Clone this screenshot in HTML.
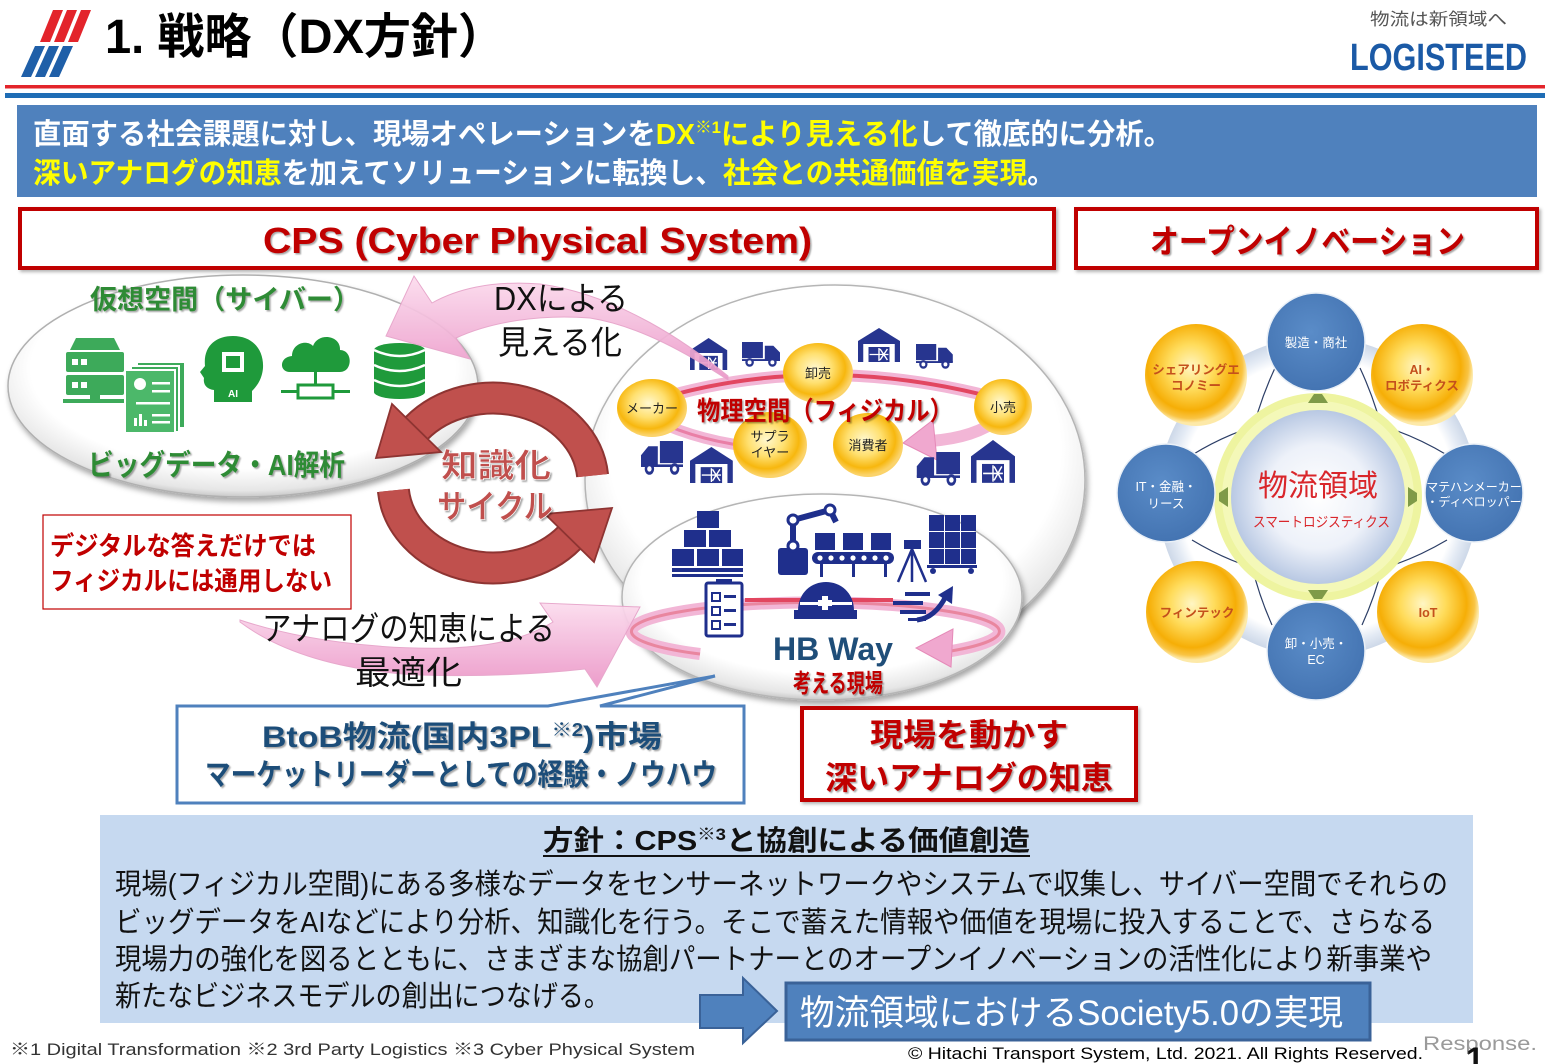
<!DOCTYPE html>
<html><head><meta charset="utf-8">
<style>
html,body{margin:0;padding:0;background:#fff;}
svg{display:block;}
text{font-family:"Liberation Sans","Noto Sans CJK JP",sans-serif;}
</style></head><body>
<svg width="1548" height="1064" viewBox="0 0 1548 1064" xmlns="http://www.w3.org/2000/svg">
<defs>
<filter id="sh" x="-10%" y="-10%" width="125%" height="130%"><feDropShadow dx="2" dy="4" stdDeviation="3" flood-color="#000" flood-opacity="0.35"/></filter>
<filter id="tsh" x="-5%" y="-20%" width="110%" height="150%"><feDropShadow dx="1.5" dy="1.5" stdDeviation="0.8" flood-color="#000" flood-opacity="0.35"/></filter>
<filter id="bsh" x="-5%" y="-10%" width="110%" height="130%"><feDropShadow dx="2" dy="2" stdDeviation="1.5" flood-color="#000" flood-opacity="0.3"/></filter>
<radialGradient id="ellG" cx="50%" cy="42%" r="58%"><stop offset="0.78" stop-color="#ffffff"/><stop offset="0.95" stop-color="#e6e6e6"/><stop offset="1" stop-color="#c8c8c8"/></radialGradient>
<radialGradient id="yel" cx="45%" cy="42%" r="55%"><stop offset="0" stop-color="#fff8cf"/><stop offset="0.45" stop-color="#ffe070"/><stop offset="0.8" stop-color="#f7b70e"/><stop offset="1" stop-color="#fbd36a"/></radialGradient>
<radialGradient id="yel2" cx="45%" cy="42%" r="55%"><stop offset="0" stop-color="#fff6c4"/><stop offset="0.4" stop-color="#ffdc5c"/><stop offset="0.78" stop-color="#f6ae06"/><stop offset="0.92" stop-color="#f9c444"/><stop offset="1" stop-color="#fde9a8"/></radialGradient>
<linearGradient id="pink" x1="0" y1="0" x2="0" y2="1"><stop offset="0" stop-color="#fcdcee"/><stop offset="1" stop-color="#eb95c7"/></linearGradient>
<radialGradient id="ctr" cx="50%" cy="50%" r="50%"><stop offset="0" stop-color="#ffffff"/><stop offset="0.6" stop-color="#edf1f9"/><stop offset="1" stop-color="#b8c8e3"/></radialGradient>
<radialGradient id="ring" cx="50%" cy="50%" r="50%"><stop offset="0.86" stop-color="#ffffff"/><stop offset="0.93" stop-color="#e3eaf4"/><stop offset="1" stop-color="#cdd8e8"/></radialGradient>
<radialGradient id="blu" cx="45%" cy="40%" r="60%"><stop offset="0" stop-color="#5a8cc8"/><stop offset="1" stop-color="#4474b2"/></radialGradient>
<g id="wh"><path d="M0 13 L20 0 L40 13 L40 34 L35 34 L35 16 L5 16 L5 34 L0 34 Z" fill="#27358f"/><rect x="10" y="19" width="20" height="15" fill="#27358f"/><path d="M20 20 L20 33 M11 26.5 L29 26.5 M21 21 L28 32 M28 21 L21 32" stroke="#fff" stroke-width="1.3"/></g>
<g id="tr"><rect x="0" y="0" width="22" height="17" fill="#27358f"/><path d="M24 4 L33 4 L40 11 L40 19 L24 19 Z" fill="#27358f"/><rect x="0" y="18" width="40" height="2" fill="#27358f"/><circle cx="8" cy="21.5" r="3.3" fill="#fff" stroke="#27358f" stroke-width="2.4"/><circle cx="32" cy="21.5" r="3.3" fill="#fff" stroke="#27358f" stroke-width="2.4"/></g>
</defs>

<!-- header -->
<g fill="#e3242b">
<polygon points="53,10 63,10 50,42 40,42"/><polygon points="67,10 77,10 64,42 54,42"/><polygon points="81,10 91,10 78,42 68,42"/>
</g>
<g fill="#1f5fa8">
<polygon points="35,46 45,46 31,77 21,77"/><polygon points="49,46 59,46 45,77 35,77"/><polygon points="63,46 73,46 59,77 49,77"/>
</g>
<text x="105" y="53" font-size="48" font-weight="bold" fill="#000" textLength="400" lengthAdjust="spacingAndGlyphs">1. 戦略（DX方針）</text>
<text x="1370" y="25" font-size="17" fill="#555" textLength="137" lengthAdjust="spacingAndGlyphs">物流は新領域へ</text>
<text x="1350" y="70" font-size="38" font-weight="bold" fill="#1b5aa6" textLength="177" lengthAdjust="spacingAndGlyphs">LOGISTEED</text>
<rect x="5" y="85" width="1540" height="3.5" fill="#e3242b"/>
<rect x="5" y="93" width="1540" height="5" fill="#1f6db5"/>

<!-- banner -->
<rect x="17" y="105" width="1520" height="92" fill="#4f81bd"/>
<text x="33" y="144" font-size="29" font-weight="bold" fill="#fff" textLength="1139" lengthAdjust="spacingAndGlyphs">直面する社会課題に対し、現場オペレーションを<tspan fill="#ffff00">DX</tspan><tspan fill="#ffff00" font-size="17" dy="-11">※1</tspan><tspan fill="#ffff00" dy="11">により見える化</tspan>して徹底的に分析。</text>
<text x="33" y="183" font-size="29" font-weight="bold" fill="#fff" textLength="1022" lengthAdjust="spacingAndGlyphs"><tspan fill="#ffff00">深いアナログの知恵</tspan>を加えてソリューションに転換し、<tspan fill="#ffff00">社会との共通価値を実現</tspan>。</text>

<!-- section headers -->
<rect x="20" y="209" width="1034" height="59" fill="#fff" stroke="#c00000" stroke-width="4" filter="url(#bsh)"/>
<text x="263" y="253" font-size="36" font-weight="bold" fill="#c00000" textLength="549" lengthAdjust="spacingAndGlyphs" filter="url(#tsh)">CPS (Cyber Physical System)</text>
<rect x="1076" y="209" width="461" height="59" fill="#fff" stroke="#c00000" stroke-width="4" filter="url(#bsh)"/>
<text x="1150" y="253" font-size="33" font-weight="bold" fill="#c00000" textLength="315" lengthAdjust="spacingAndGlyphs" filter="url(#tsh)">オープンイノベーション</text>

<!-- ellipses -->
<ellipse cx="835" cy="480" rx="250" ry="195" fill="url(#ellG)" stroke="#b5b5b5" stroke-width="1.5" filter="url(#sh)"/>
<ellipse cx="822" cy="597" rx="200" ry="103" fill="url(#ellG)" stroke="#b5b5b5" stroke-width="1.5" filter="url(#sh)"/>
<ellipse cx="243" cy="386" rx="235" ry="111" fill="url(#ellG)" stroke="#b0b0b0" stroke-width="1.5" filter="url(#sh)"/>

<!-- cyber content -->
<text x="90" y="309" font-size="27" font-weight="bold" fill="#2e8b35" textLength="270" lengthAdjust="spacingAndGlyphs" filter="url(#tsh)">仮想空間（サイバー）</text>
<g fill="#3daa5a">
<polygon points="70,350 76,338 114,338 120,350"/>
<rect x="66" y="352" width="58" height="20" rx="2"/>
<rect x="66" y="375" width="58" height="20" rx="2"/>
<rect x="90" y="395" width="10" height="5"/>
<rect x="63" y="399" width="62" height="4"/>
<rect x="137" y="362" width="48" height="66" stroke="#fff" stroke-width="2"/>
<rect x="131" y="366" width="48" height="66" stroke="#fff" stroke-width="2"/>
<rect x="125" y="370" width="50" height="63" fill="#4cb86a" stroke="#fff" stroke-width="2"/>
</g>
<g fill="#fff">
<rect x="72" y="359" width="6" height="6"/><rect x="81" y="359" width="6" height="6"/>
<rect x="72" y="382" width="6" height="6"/><rect x="81" y="382" width="6" height="6"/>
<circle cx="140" cy="384" r="6"/>
<rect x="152" y="382" width="18" height="2.5"/><rect x="152" y="390" width="18" height="2.5"/>
<rect x="136" y="402" width="34" height="2.5"/>
<rect x="134" y="418" width="3" height="8"/><rect x="139" y="414" width="3" height="12"/><rect x="144" y="420" width="3" height="6"/>
<rect x="152" y="414" width="18" height="2.5"/><rect x="152" y="421" width="18" height="2.5"/>
</g>
<path d="M214 402 L214 390 C206 389 203 384 204 378 L200 372 L205 366 C203 346 216 336 233 336 C253 336 264 350 263 368 C262 380 256 387 252 391 L252 402 Z" fill="#1f9a3b"/>
<rect x="222" y="352" width="22" height="20" fill="#fff"/>
<rect x="226" y="356" width="14" height="12" fill="#1f9a3b"/>
<text x="233" y="397" font-size="10" font-weight="bold" fill="#fff" text-anchor="middle">AI</text>
<path d="M290 372 C279 372 279 357 292 356 C292 344 306 339 313 346 C318 332 341 335 340 350 C353 350 353 372 340 372 Z" fill="#1f9a3b"/>
<rect x="314" y="372" width="3" height="13" fill="#1f9a3b"/>
<rect x="298" y="385" width="35" height="13" fill="none" stroke="#1f9a3b" stroke-width="3"/>
<rect x="281" y="390" width="17" height="3" fill="#1f9a3b"/><rect x="333" y="390" width="17" height="3" fill="#1f9a3b"/>
<rect x="374" y="350" width="51" height="42" fill="#1f9a3b"/>
<ellipse cx="399.5" cy="350" rx="25.5" ry="7" fill="#1f9a3b"/>
<ellipse cx="399.5" cy="392" rx="25.5" ry="7" fill="#1f9a3b"/>
<path d="M374 350 Q399.5 362 425 350 M374 365 Q399.5 377 425 365 M374 380 Q399.5 392 425 380" stroke="#fff" stroke-width="2.5" fill="none"/>
<text x="88" y="475" font-size="29" font-weight="bold" fill="#2e8b35" textLength="257" lengthAdjust="spacingAndGlyphs" filter="url(#tsh)">ビッグデータ・AI解析</text>

<!-- physical loop -->
<path d="M655 400 Q820 350 1003 400" stroke="#f2b6d6" stroke-width="12" fill="none"/>
<path d="M655 400 Q820 350 1003 400" stroke="#e24660" stroke-width="4" fill="none"/>
<path d="M655 420 Q700 442 762 448" stroke="#f2b6d6" stroke-width="11" fill="none"/>
<path d="M655 420 Q700 442 762 448" stroke="#e97fa6" stroke-width="3" fill="none"/>
<path d="M1000 418 Q975 438 930 441" stroke="#f2b6d6" stroke-width="12" fill="none"/>
<polygon points="933,420 937,460 903,443" fill="#f0a8cf" stroke="#e58ab8" stroke-width="1"/>
<g>
<ellipse cx="652" cy="408" rx="35" ry="29" fill="url(#yel)"/>
<ellipse cx="818" cy="373" rx="35" ry="30" fill="url(#yel)"/>
<ellipse cx="1003" cy="407" rx="29" ry="28" fill="url(#yel)"/>
<ellipse cx="770" cy="445" rx="37" ry="33" fill="url(#yel)"/>
<ellipse cx="868" cy="445" rx="35" ry="32" fill="url(#yel)"/>
</g>
<g font-size="13" fill="#222" text-anchor="middle">
<text x="652" y="413">メーカー</text>
<text x="818" y="378">卸売</text>
<text x="1003" y="412">小売</text>
<text x="770" y="441">サプラ</text>
<text x="770" y="457">イヤー</text>
<text x="868" y="450">消費者</text>
</g>
<text x="697" y="420" font-size="26" font-weight="bold" fill="#c00000" textLength="256" lengthAdjust="spacingAndGlyphs" filter="url(#tsh)">物理空間（フィジカル）</text>
<use href="#wh" transform="translate(690,338) scale(0.93,0.94)"/>
<use href="#wh" transform="translate(858,328) scale(1.05,1.0)"/>
<use href="#wh" transform="translate(690,447) scale(1.07,1.06)"/>
<use href="#wh" transform="translate(971,440) scale(1.1,1.26)"/>
<use href="#tr" transform="translate(742,342) scale(0.95,0.95)"/>
<use href="#tr" transform="translate(916,344) scale(0.92,0.95)"/>
<use href="#tr" transform="translate(683,441) scale(-1.05,1.3)"/>
<use href="#tr" transform="translate(960,452) scale(-1.08,1.3)"/>

<!-- HB loop -->
<path d="M700 654 A184 29 0 1 1 945 652" stroke="#f2b6d6" stroke-width="12" fill="none"/>
<path d="M700 654 A184 29 0 1 1 945 652" stroke="#e9869f" stroke-width="3" fill="none"/>
<path d="M745 600 L893 600" stroke="#e24660" stroke-width="4"/>
<polygon points="953,629 951,667 916,648" fill="#f0a8cf" stroke="#e58ab8" stroke-width="1"/>
<g fill="#1f2f8c">
<rect x="697" y="511" width="22" height="17"/>
<rect x="684" y="530" width="22" height="17"/><rect x="709" y="530" width="22" height="17"/>
<rect x="672" y="549" width="22" height="17"/><rect x="697" y="549" width="22" height="17"/><rect x="722" y="549" width="21" height="17"/>
<rect x="672" y="568" width="71" height="4"/><rect x="672" y="574" width="71" height="3"/>
<rect x="778" y="548" width="30" height="27" rx="3"/>
<rect x="812" y="552" width="82" height="12" rx="6"/>
<rect x="815" y="533" width="20" height="17"/><rect x="843" y="533" width="20" height="17"/><rect x="871" y="533" width="20" height="17"/>
<rect x="820" y="564" width="3" height="13"/><rect x="852" y="564" width="3" height="13"/><rect x="884" y="564" width="3" height="13"/>
<rect x="904" y="540" width="17" height="9"/>
<rect x="929" y="515" width="15" height="16"/><rect x="945" y="515" width="15" height="16"/><rect x="961" y="515" width="15" height="16"/>
<rect x="929" y="532" width="15" height="16"/><rect x="945" y="532" width="15" height="16"/><rect x="961" y="532" width="15" height="16"/>
<rect x="929" y="549" width="15" height="15"/><rect x="945" y="549" width="15" height="15"/><rect x="961" y="549" width="15" height="15"/>
<rect x="927" y="565" width="50" height="3"/>
<circle cx="933" cy="571" r="3"/><circle cx="971" cy="571" r="3"/>
<rect x="716" y="579" width="16" height="6"/>
<path d="M798 611 C798 592 812 582 826 582 C840 582 854 592 854 611 Z"/>
<rect x="794" y="610" width="63" height="9"/>
<rect x="905" y="592" width="25" height="4"/><rect x="893" y="601" width="30" height="4"/><rect x="900" y="610" width="26" height="4"/><rect x="908" y="618" width="18" height="3"/>
</g>
<path d="M793 548 L793 520 L830 510 L836 522" stroke="#1f2f8c" stroke-width="6" fill="none"/>
<circle cx="793" cy="546" r="5" fill="#fff" stroke="#1f2f8c" stroke-width="3"/>
<circle cx="793" cy="520" r="5" fill="#fff" stroke="#1f2f8c" stroke-width="3"/>
<circle cx="830" cy="510" r="5" fill="#fff" stroke="#1f2f8c" stroke-width="3"/>
<g fill="#fff"><circle cx="820" cy="558" r="2.6"/><circle cx="831" cy="558" r="2.6"/><circle cx="842" cy="558" r="2.6"/><circle cx="853" cy="558" r="2.6"/><circle cx="864" cy="558" r="2.6"/><circle cx="875" cy="558" r="2.6"/><circle cx="886" cy="558" r="2.6"/></g>
<path d="M912 549 L898 582 M912 549 L912 582 M912 549 L926 582" stroke="#1f2f8c" stroke-width="2.5"/>
<rect x="706" y="583" width="36" height="53" rx="2" fill="#fff" stroke="#1f2f8c" stroke-width="3"/>
<g fill="none" stroke="#1f2f8c" stroke-width="2"><rect x="712" y="593" width="8" height="8"/><rect x="712" y="607" width="8" height="8"/><rect x="712" y="621" width="8" height="8"/></g>
<g fill="#1f2f8c"><rect x="724" y="595" width="12" height="3"/><rect x="724" y="609" width="12" height="3"/><rect x="724" y="623" width="12" height="3"/></g>
<rect x="800" y="602" width="52" height="3" fill="#fff"/>
<rect x="822" y="596" width="6" height="14" fill="#fff"/><rect x="818" y="600" width="14" height="6" fill="#fff"/>
<path d="M917 620 Q935 618 946 596" stroke="#1f2f8c" stroke-width="5" fill="none"/>
<polygon points="953,586 952,604 938,595" fill="#1f2f8c"/>
<text x="773" y="660" font-size="32" font-weight="bold" fill="#1f4e79" textLength="120" lengthAdjust="spacingAndGlyphs">HB Way</text>
<text x="793" y="692" font-size="25" font-weight="bold" fill="#c00000" textLength="90" lengthAdjust="spacingAndGlyphs" filter="url(#tsh)">考える現場</text>

<!-- knowledge cycle -->
<path d="M592.6 475.6 A100 85 0 0 0 416.4 428.4" stroke="#8e3432" stroke-width="33" fill="none"/>
<path d="M592.6 475.6 A100 85 0 0 0 416.4 428.4" stroke="#c0504d" stroke-width="29" fill="none"/>
<polygon points="392,404 441,452 376,458" fill="#c0504d" stroke="#8e3432" stroke-width="1.8"/>
<path d="M393.4 490.4 A100 85 0 0 0 569.6 537.6" stroke="#8e3432" stroke-width="33" fill="none"/>
<path d="M393.4 490.4 A100 85 0 0 0 569.6 537.6" stroke="#c0504d" stroke-width="29" fill="none"/>
<polygon points="594,562 545,514 612,508" fill="#c0504d" stroke="#8e3432" stroke-width="1.8"/>
<text x="441" y="477" font-size="33" font-weight="bold" fill="#c0504d" textLength="110" lengthAdjust="spacingAndGlyphs" stroke="#fff" stroke-width="0.6" filter="url(#tsh)">知識化</text>
<text x="437" y="518" font-size="33" font-weight="bold" fill="#c0504d" textLength="116" lengthAdjust="spacingAndGlyphs" stroke="#fff" stroke-width="0.6" filter="url(#tsh)">サイクル</text>

<!-- pink arrows -->
<path d="M728 376 C690 345 620 295 540 284 C490 280 455 290 432 303 L414 276 L386 336 L470 359 L456 338 C490 322 540 314 590 318 C640 326 690 355 728 380 Z" fill="url(#pink)" stroke="#e6a1c8" stroke-width="1" opacity="0.92"/>
<path d="M240 620 C300 640 380 650 450 648 C500 646 530 636 553 622 L540 603 L640 607 L597 687 L585 669 C540 674 480 677 420 675 C340 671 280 652 240 622 Z" fill="url(#pink)" stroke="#e6a1c8" stroke-width="1" opacity="0.92"/>
<text x="494" y="310" font-size="33" fill="#111" textLength="134" lengthAdjust="spacingAndGlyphs">DXによる</text>
<text x="498" y="354" font-size="33" fill="#111" textLength="124" lengthAdjust="spacingAndGlyphs">見える化</text>
<text x="262" y="640" font-size="33" fill="#111" textLength="293" lengthAdjust="spacingAndGlyphs">アナログの知恵による</text>
<text x="355" y="684" font-size="33" fill="#111" textLength="107" lengthAdjust="spacingAndGlyphs">最適化</text>

<!-- red note box -->
<rect x="43" y="515" width="308" height="94" fill="#fff" stroke="#c00000" stroke-width="1.2"/>
<text x="50" y="555" font-size="26" font-weight="bold" fill="#c00000" textLength="266" lengthAdjust="spacingAndGlyphs">デジタルな答えだけでは</text>
<text x="50" y="590" font-size="26" font-weight="bold" fill="#c00000" textLength="282" lengthAdjust="spacingAndGlyphs">フィジカルには通用しない</text>

<!-- blue callout -->
<path d="M177 706 L548 706 L715 676 L600 706 L744 706 L744 803 L177 803 Z" fill="#fff" stroke="#4f81bd" stroke-width="3" stroke-linejoin="miter"/>
<text x="262" y="747" font-size="30" font-weight="bold" fill="#1f4e79" textLength="400" lengthAdjust="spacingAndGlyphs" filter="url(#tsh)">BtoB物流(国内3PL<tspan font-size="18" dy="-11">※2</tspan><tspan dy="11">)市場</tspan></text>
<text x="205" y="785" font-size="30" font-weight="bold" fill="#1f4e79" textLength="512" lengthAdjust="spacingAndGlyphs" filter="url(#tsh)">マーケットリーダーとしての経験・ノウハウ</text>

<!-- red box 2 -->
<rect x="802" y="708" width="334" height="92" fill="#fff" stroke="#c00000" stroke-width="4" filter="url(#bsh)"/>
<text x="870" y="746" font-size="32" font-weight="bold" fill="#c00000" textLength="198" lengthAdjust="spacingAndGlyphs" filter="url(#tsh)">現場を動かす</text>
<text x="825" y="789" font-size="32" font-weight="bold" fill="#c00000" textLength="288" lengthAdjust="spacingAndGlyphs" filter="url(#tsh)">深いアナログの知恵</text>

<!-- right diagram -->
<circle cx="1318" cy="497" r="160" fill="url(#ring)"/>
<g stroke="#2c3e66" stroke-width="1.2" fill="none">
<path d="M1275 368 Q1215 497 1272 625"/>
<path d="M1360 368 Q1420 497 1362 625"/>
<path d="M1192 455 Q1318 378 1447 455"/>
<path d="M1192 540 Q1318 616 1447 540"/>
</g>
<circle cx="1318" cy="497" r="104" fill="#eef4a0"/>
<circle cx="1318" cy="497" r="96" fill="#f4f8b8"/>
<circle cx="1318" cy="497" r="87" fill="url(#ctr)"/>
<g fill="#7f9a48">
<polygon points="1308,403 1328,403 1322,394 1314,394"/>
<polygon points="1308,590 1328,590 1322,599 1314,599"/>
<polygon points="1228,487 1228,507 1219,501 1219,493"/>
<polygon points="1408,487 1408,507 1417,501 1417,493"/>
</g>
<text x="1258" y="496" font-size="30" fill="#d9262b" textLength="120" lengthAdjust="spacingAndGlyphs">物流領域</text>
<text x="1253" y="527" font-size="14" fill="#d9262b" textLength="137" lengthAdjust="spacingAndGlyphs">スマートロジスティクス</text>
<g stroke="#eaf0f7" stroke-width="1.5">
<circle cx="1316" cy="342" r="49" fill="url(#blu)"/>
<circle cx="1166" cy="493" r="49" fill="url(#blu)"/>
<circle cx="1474" cy="493" r="49" fill="url(#blu)"/>
<circle cx="1316" cy="651" r="49" fill="url(#blu)"/>
</g>
<circle cx="1196" cy="375" r="51" fill="url(#yel2)"/>
<circle cx="1422" cy="375" r="51" fill="url(#yel2)"/>
<circle cx="1197" cy="612" r="51" fill="url(#yel2)"/>
<circle cx="1428" cy="612" r="51" fill="url(#yel2)"/>
<g font-size="12.5" fill="#fff" text-anchor="middle">
<text x="1316" y="347">製造・商社</text>
<text x="1166" y="491">IT・金融・</text>
<text x="1166" y="508">リース</text>
<text x="1474" y="491" font-size="12">マテハンメーカー</text>
<text x="1474" y="506" font-size="12">・ディベロッパー</text>
<text x="1316" y="648">卸・小売・</text>
<text x="1316" y="664">EC</text>
</g>
<g font-size="12.5" font-weight="bold" fill="#c4501c" text-anchor="middle">
<text x="1196" y="374">シェアリングエ</text>
<text x="1196" y="390">コノミー</text>
<text x="1422" y="374">AI・</text>
<text x="1422" y="390">ロボティクス</text>
<text x="1197" y="617">フィンテック</text>
<text x="1428" y="617">IoT</text>
</g>

<!-- bottom panel -->
<rect x="100" y="815" width="1373" height="208" fill="#c6d9f0"/>
<text x="543" y="850" font-size="28" font-weight="bold" fill="#111" textLength="487" lengthAdjust="spacingAndGlyphs">方針：CPS<tspan font-size="17" dy="-10">※3</tspan><tspan dy="10">と協創による価値創造</tspan></text>
<rect x="543" y="855" width="487" height="2" fill="#111"/>
<g font-size="29" fill="#111">
<text x="115" y="894" textLength="1333" lengthAdjust="spacingAndGlyphs">現場(フィジカル空間)にある多様なデータをセンサーネットワークやシステムで収集し、サイバー空間でそれらの</text>
<text x="115" y="932" textLength="1320" lengthAdjust="spacingAndGlyphs">ビッグデータをAIなどにより分析、知識化を行う。そこで蓄えた情報や価値を現場に投入することで、さらなる</text>
<text x="115" y="969" textLength="1317" lengthAdjust="spacingAndGlyphs">現場力の強化を図るとともに、さまざまな協創パートナーとのオープンイノベーションの活性化により新事業や</text>
<text x="115" y="1006" textLength="495" lengthAdjust="spacingAndGlyphs">新たなビジネスモデルの創出につなげる。</text>
</g>
<polygon points="700,995 743,995 743,978 777,1011 743,1043 743,1028 700,1028" fill="#4f81bd" stroke="#3a6298" stroke-width="2"/>
<rect x="786" y="983" width="584" height="57" fill="#4f81bd" stroke="#3a6298" stroke-width="3"/>
<text x="800" y="1025" font-size="35" fill="#fff" textLength="543" lengthAdjust="spacingAndGlyphs">物流領域におけるSociety5.0の実現</text>

<!-- footer -->
<text x="10" y="1055" font-size="17" fill="#333" textLength="685" lengthAdjust="spacingAndGlyphs">※1 Digital Transformation  ※2 3rd Party Logistics  ※3 Cyber Physical System</text>
<text x="908" y="1059" font-size="16.5" fill="#000" textLength="515" lengthAdjust="spacingAndGlyphs">© Hitachi Transport System, Ltd. 2021. All Rights Reserved.</text>
<text x="1423" y="1050" font-size="19" fill="#9a9a9a" textLength="114" lengthAdjust="spacingAndGlyphs">Response.</text>
<text x="1466" y="1070" font-size="32" font-weight="bold" fill="#111" font-family="Liberation Serif, serif">1</text>
</svg>
</body></html>
